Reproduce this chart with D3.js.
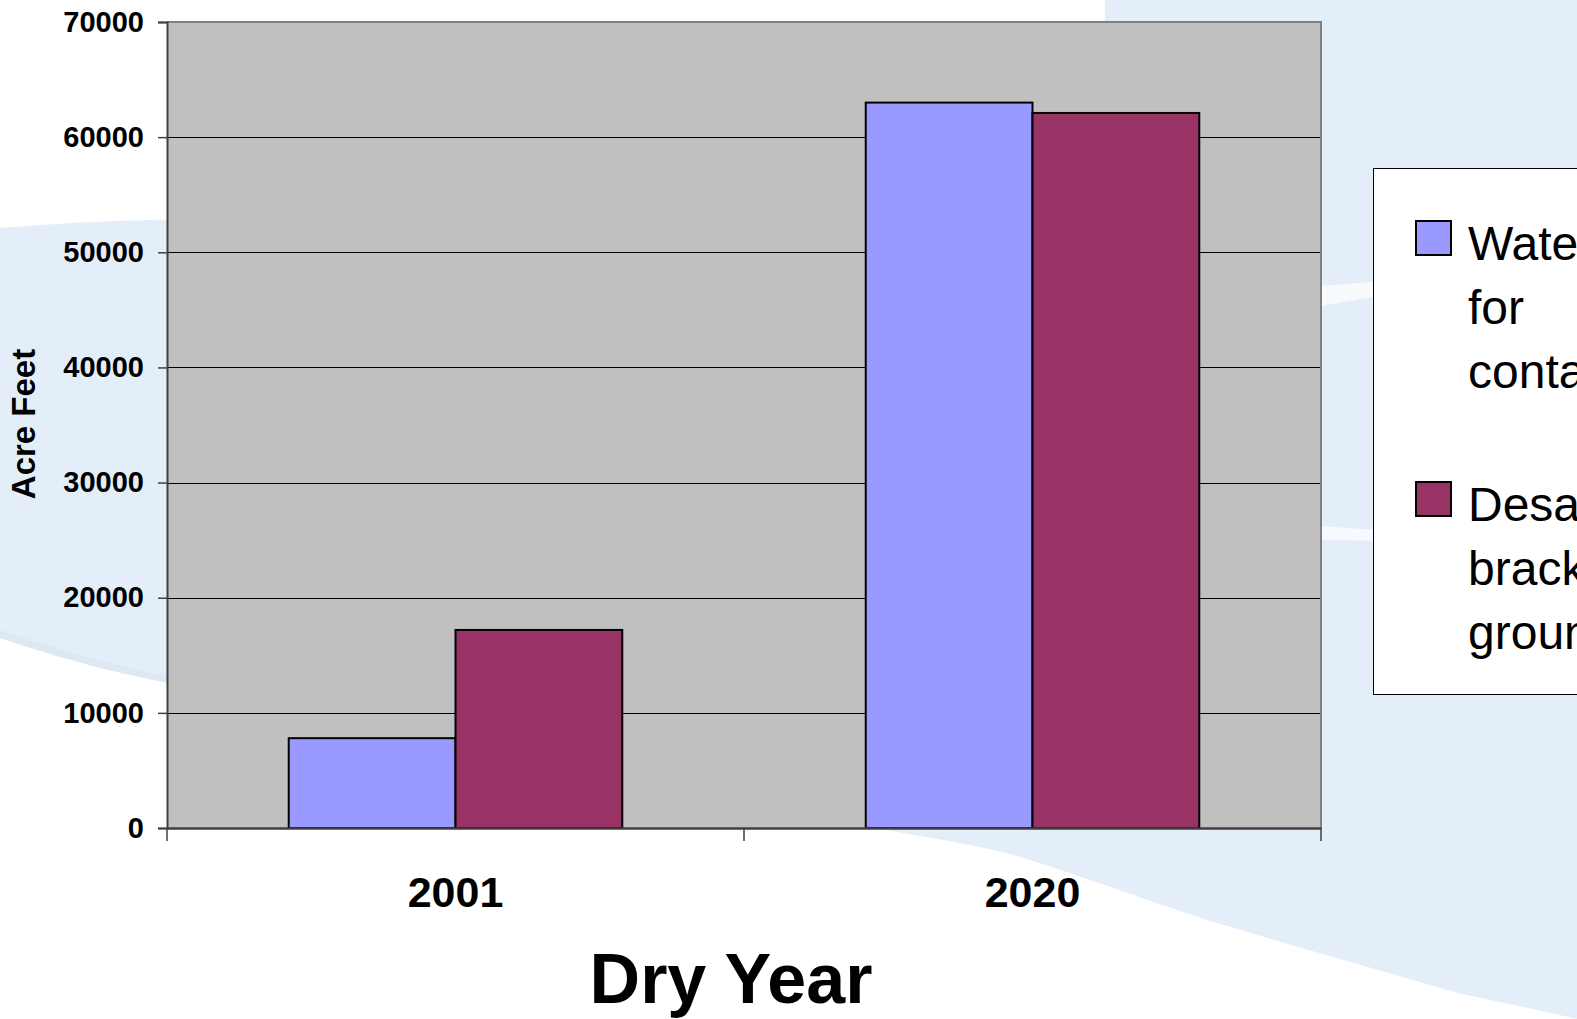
<!DOCTYPE html>
<html>
<head>
<meta charset="utf-8">
<script src="https://unpkg.com/d3@7/dist/d3.min.js"></script>
<style>
  html, body { margin: 0; padding: 0; background: #fff; overflow: hidden; }
  svg { display: block; font-family: Arial, 'Liberation Sans', sans-serif; }
</style>
</head>
<body>
<div id="chart"></div>
<script>
// data
const years = ['2001', '2020']
const seriesNames = ['Water treatment for contamination', 'Desalination of brackish groundwater']
const legendLines = [['Water treatment', 'for', 'contamination'], ['Desalination of', 'brackish', 'groundwater']]
const waterTreated = [7800, 63000]
const desalination = [17200, 62100]
const yTicks = [0, 10000, 20000, 30000, 40000, 50000, 60000, 70000]
const colors = ['#9999ff', '#993366']

let w = 1577,
    h = 1019
let plot = { left: 167, top: 22, right: 1321, bottom: 828 }

let svg = d3.select('#chart')
    .append('svg')
    .attr('width', w)
    .attr('height', h)

//#region background swooshes
let bg = svg.append('g')
bg.append('rect').attr('width', w).attr('height', h).attr('fill', '#ffffff')
bg.append('path') // left band
    .attr('d', 'M0,228 C60,223 120,220 200,219 L200,688 C130,678 60,658 0,638 Z')
    .attr('fill', '#e4eef9')
bg.append('path') // soft edge of left band
    .attr('d', 'M0,638 C60,658 130,678 200,688 L200,682 C130,671 60,650 0,630 Z')
    .attr('fill', '#d9e4ef')
    .attr('opacity', 0.6)
bg.append('path') // right area
    .attr('d', 'M1105,0 L1577,0 L1577,1019 C1520,1006 1480,998 1458,993 C1380,970 1290,945 1207,920 C1130,895 1060,868 1006,853 C960,842 910,834 862,826 L862,600 L1105,22 Z')
    .attr('fill', '#e4eef9')
bg.append('path') // white streaks right of plot
    .attr('d', 'M1321,286 C1400,280 1480,272 1577,264 L1577,270 C1480,280 1400,292 1321,306 Z')
    .attr('fill', '#ffffff')
    .attr('opacity', 0.75)
bg.append('path')
    .attr('d', 'M1321,526 C1400,532 1480,536 1577,540 L1577,545 C1480,543 1400,541 1321,540 Z')
    .attr('fill', '#ffffff')
    .attr('opacity', 0.65)
//#endregion

//#region scales
let x0 = d3.scaleBand()
    .domain(years)
    .range([plot.left, plot.right])
    .padding(0)
let x1 = d3.scaleBand()
    .domain(seriesNames)
    .range([0, x0.bandwidth()])
    .paddingInner(0)
    .paddingOuter(0.73)
let yScale = d3.scaleLinear()
    .domain([0, 70000])
    .range([plot.bottom, plot.top])
//#endregion

// plot area
svg.append('rect')
    .attr('x', plot.left)
    .attr('y', plot.top)
    .attr('width', plot.right - plot.left)
    .attr('height', plot.bottom - plot.top)
    .attr('fill', '#c0c0c0')

// gridlines
svg.append('g')
    .selectAll('line')
    .data(yTicks.slice(1, -1))
    .enter()
    .append('line')
    .attr('x1', plot.left)
    .attr('x2', plot.right)
    .attr('y1', d => Math.round(yScale(d)) + 0.5)
    .attr('y2', d => Math.round(yScale(d)) + 0.5)
    .attr('stroke', '#000')
    .attr('stroke-width', 1)

// plot border top/right
svg.append('path')
    .attr('d', `M${plot.left},${plot.top} H${plot.right} V${plot.bottom}`)
    .attr('fill', 'none')
    .attr('stroke', '#808080')
    .attr('stroke-width', 2)

//#region bars
let rows = years.map((y, i) => ({ year: y, values: [waterTreated[i], desalination[i]] }))
svg.append('g')
    .selectAll('g')
    .data(rows)
    .enter()
    .append('g')
    .attr('transform', d => `translate(${x0(d.year)},0)`)
    .selectAll('rect')
    .data(d => d.values.map((v, j) => ({ key: seriesNames[j], value: v, idx: j })))
    .enter()
    .append('rect')
    .attr('x', d => x1(d.key))
    .attr('y', d => yScale(d.value))
    .attr('width', x1.bandwidth())
    .attr('height', d => plot.bottom - yScale(d.value))
    .attr('fill', d => colors[d.idx])
    .attr('stroke', '#000')
    .attr('stroke-width', 2)
//#endregion

//#region axes
let yAxis = d3.axisLeft(yScale)
    .tickValues(yTicks)
    .tickSize(9)
    .tickPadding(14)
    .tickFormat(d3.format('d'))
let yg = svg.append('g')
    .attr('transform', `translate(${plot.left},0)`)
    .call(yAxis)
yg.select('.domain').attr('stroke', '#404040').attr('stroke-width', 2)
yg.selectAll('.tick line').attr('stroke', '#404040').attr('stroke-width', 1.5)
yg.selectAll('.tick text')
    .attr('font-size', 29)
    .attr('font-weight', 'bold')
    .attr('font-family', 'Arial, Liberation Sans, sans-serif')
    .attr('fill', '#000')

let xAxis = d3.axisBottom(x0)
    .tickSize(0)
    .tickPadding(48)
let xg = svg.append('g')
    .attr('transform', `translate(0,${plot.bottom})`)
    .call(xAxis)
xg.select('.domain').attr('stroke', '#404040').attr('stroke-width', 2.5)
xg.selectAll('.tick text')
    .attr('font-size', 43)
    .attr('font-weight', 'bold')
    .attr('font-family', 'Arial, Liberation Sans, sans-serif')
    .attr('fill', '#000')
// category separators
svg.append('g')
    .selectAll('line')
    .data([...years.map(y => x0(y)), plot.right])
    .enter()
    .append('line')
    .attr('x1', d => d)
    .attr('x2', d => d)
    .attr('y1', plot.bottom)
    .attr('y2', plot.bottom + 13)
    .attr('stroke', '#404040')
    .attr('stroke-width', 1.5)
//#endregion

// titles
svg.append('text')
    .text('Dry Year')
    .attr('x', 731)
    .attr('y', 1003)
    .attr('text-anchor', 'middle')
    .attr('font-size', 70)
    .attr('font-weight', 'bold')
svg.append('text')
    .text('Acre Feet')
    .attr('transform', 'translate(35,424) rotate(-90)')
    .attr('text-anchor', 'middle')
    .attr('font-size', 33)
    .attr('font-weight', 'bold')

//#region legend
let legend = svg.append('g').attr('transform', 'translate(1373,168)')
legend.append('rect')
    .attr('x', 0.5)
    .attr('y', 0.5)
    .attr('width', 400)
    .attr('height', 526)
    .attr('fill', '#fff')
    .attr('stroke', '#000')
    .attr('stroke-width', 1)
let items = legend.selectAll('.item')
    .data(legendLines)
    .enter()
    .append('g')
    .attr('class', 'item')
    .attr('transform', (d, i) => `translate(0,${i === 0 ? 53 : 314})`)
items.append('rect')
    .attr('x', 43)
    .attr('y', 0)
    .attr('width', 35)
    .attr('height', 34)
    .attr('fill', (d, i) => colors[i])
    .attr('stroke', '#000')
    .attr('stroke-width', 2)
items.append('text')
    .attr('font-size', 48)
    .attr('fill', '#000')
    .selectAll('tspan')
    .data(d => d)
    .enter()
    .append('tspan')
    .attr('x', 95)
    .attr('y', (d, i) => 39 + i * 64)
    .text(d => d)
//#endregion
</script>
</body>
</html>
